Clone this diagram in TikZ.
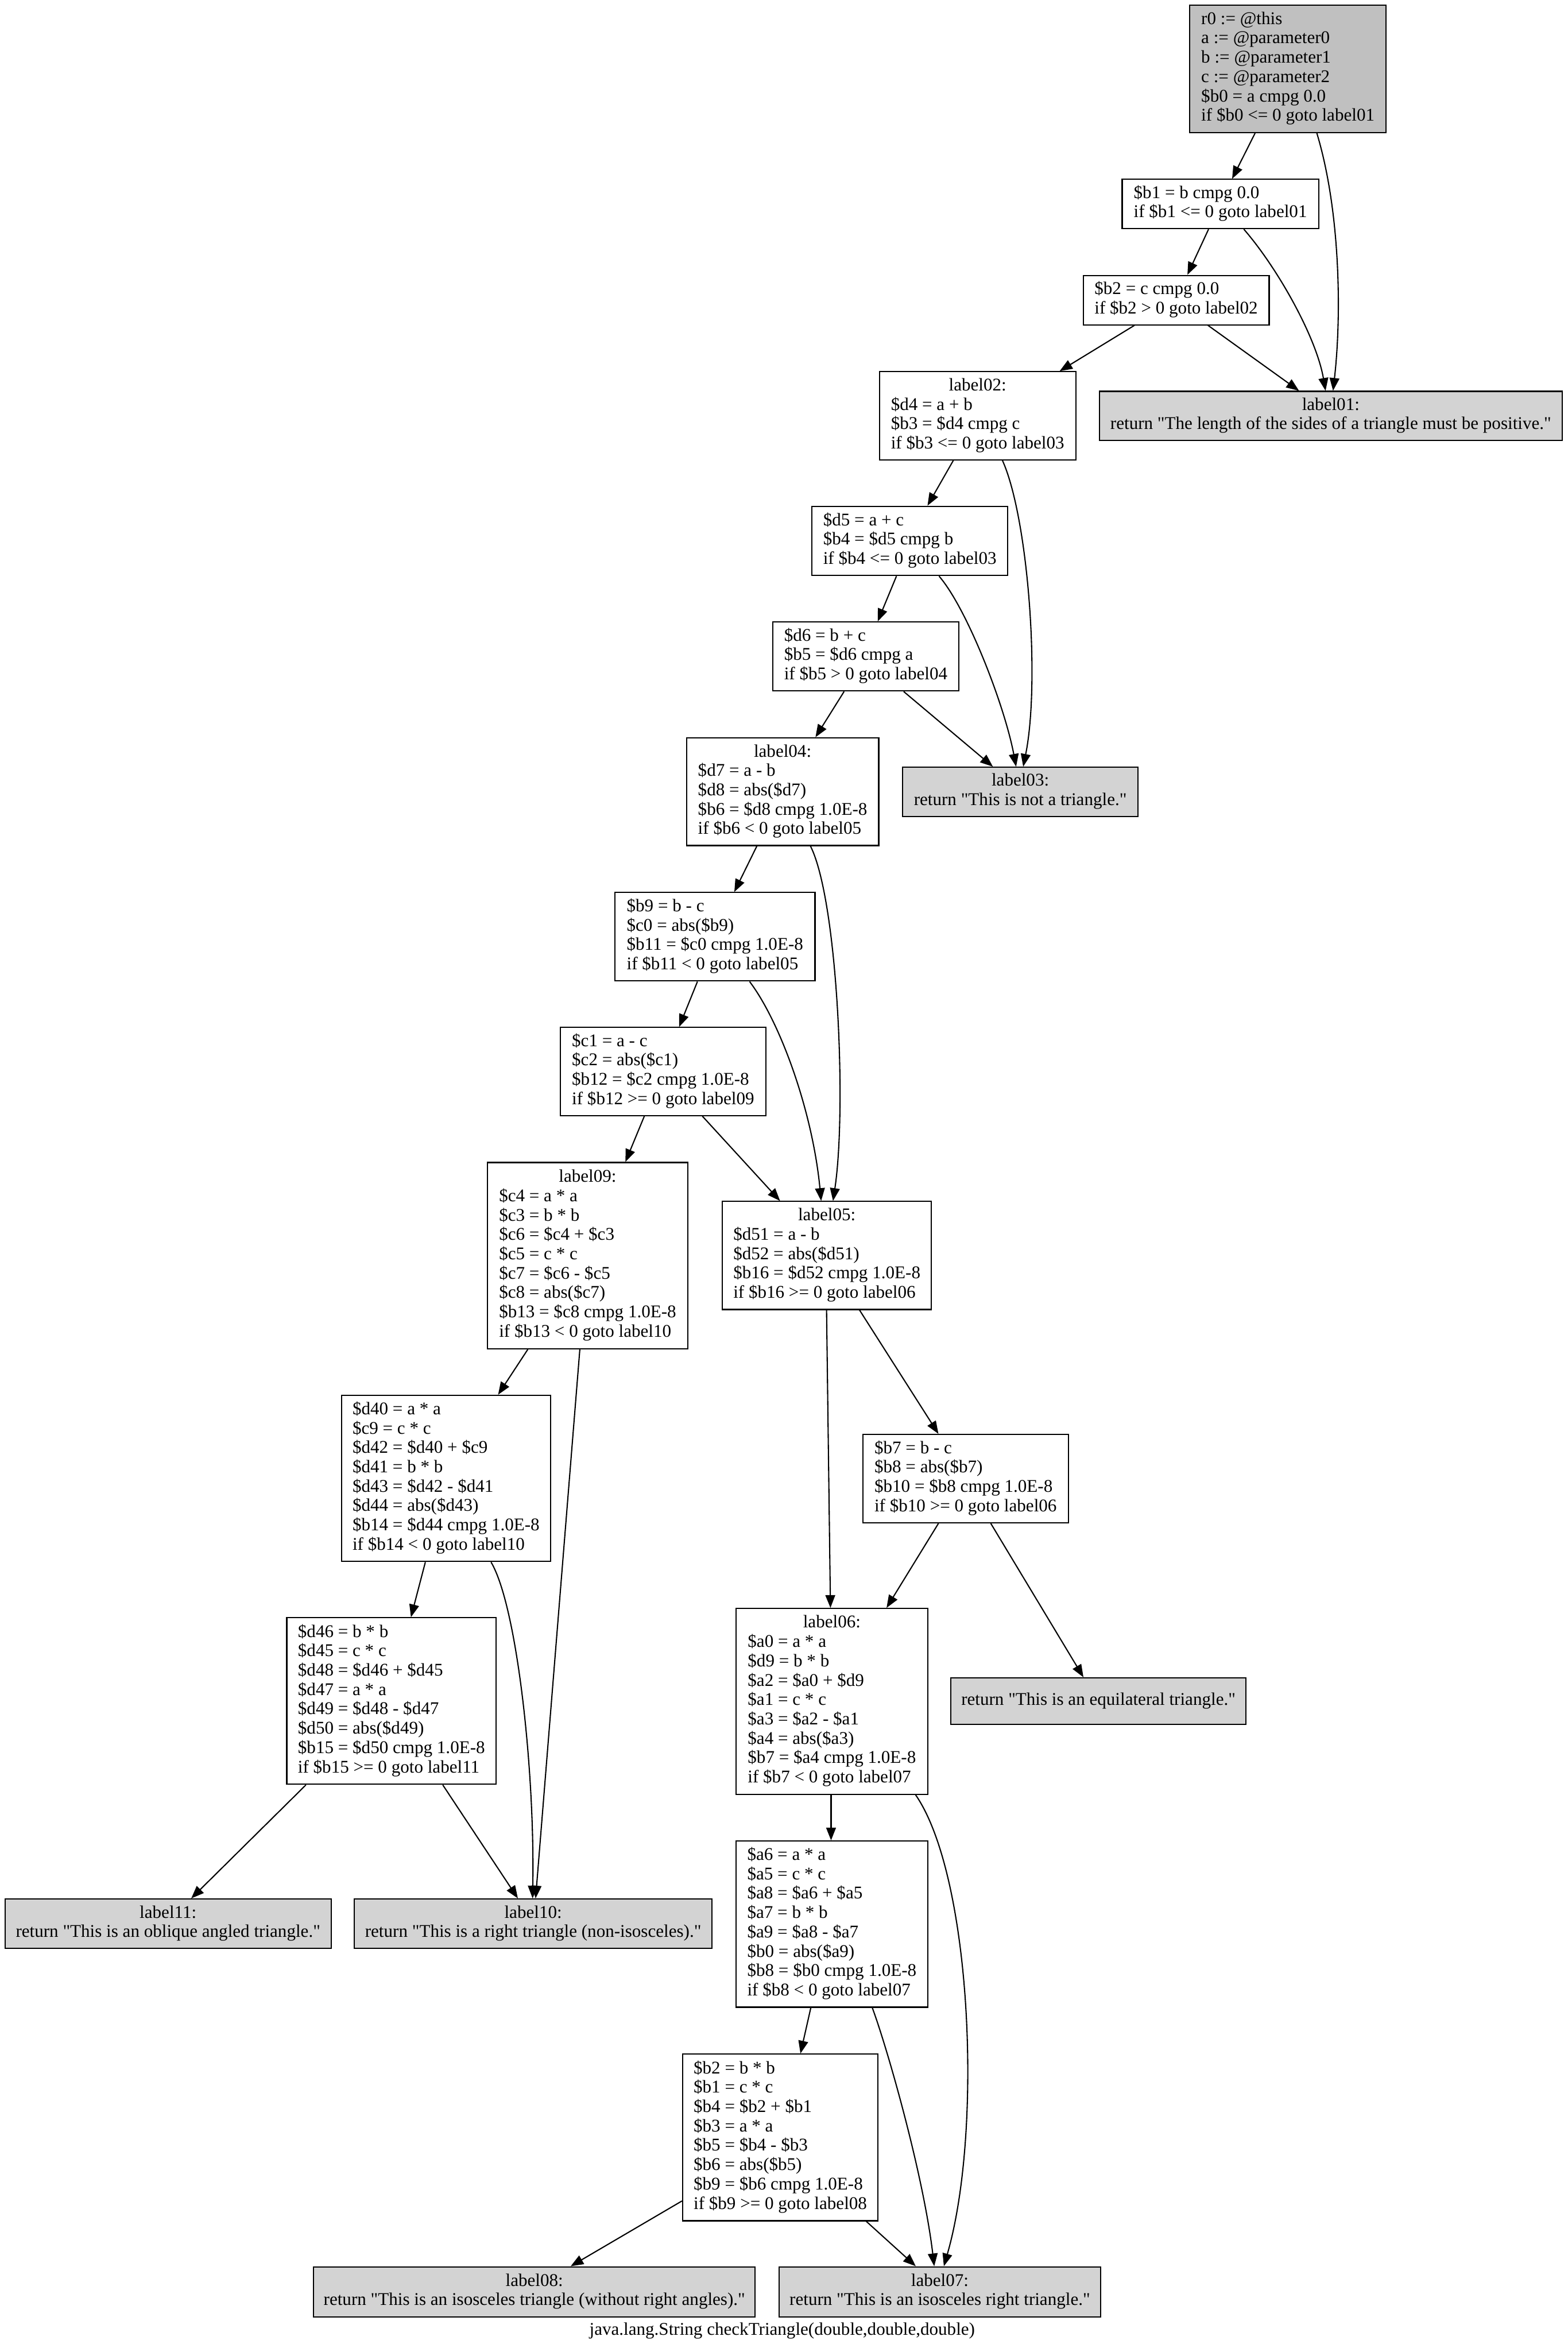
\documentclass[tikz,border=0pt]{standalone}
\usepackage{fontspec}
\newfontfamily\codeserif{Liberation Serif}
\usetikzlibrary{arrows.meta}
\definecolor{topgray}{HTML}{C0C0C0}
\definecolor{boxgray}{HTML}{D3D3D3}
\newcommand{\codefont}{\codeserif\fontsize{11.9pt}{12.9pt}\selectfont}
\newcommand{\codelines}[1]{\begin{tabular}{@{}l@{}}#1\end{tabular}}
\newcommand{\ctrlines}[1]{\begin{tabular}{@{}c@{}}#1\end{tabular}}
\newcommand{\hdline}[1]{\multicolumn{1}{@{}c@{}}{#1}}
\tikzset{
  cbox/.style={draw, line width=0.8pt, inner sep=0pt, fill=white, font=\codefont, rectangle},
  gbox/.style={cbox, fill=boxgray},
  flow/.style={line width=0.8pt, -{Triangle[length=8.5pt,width=6.5pt]}},
}
\begin{document}
\begin{tikzpicture}[x=1pt,y=-1pt]
\useasboundingbox (0,0) rectangle (1045.1,1568);

% nodes
\node[cbox, fill=topgray, minimum width=130.8pt, minimum height=85.1pt] (n0) at (858.7,45.85)
 {\codelines{r0 := @this\\ a := @parameter0\\ b := @parameter1\\ c := @parameter2\\ \$b0 = a cmpg 0.0\\ if \$b0 <= 0 goto label01}};
\node[cbox, minimum width=131pt, minimum height=32.8pt] (n1) at (813.7,136.0)
 {\codelines{\$b1 = b cmpg 0.0\\ if \$b1 <= 0 goto label01}};
\node[cbox, minimum width=124pt, minimum height=32.9pt] (n2) at (784.2,200.05)
 {\codelines{\$b2 = c cmpg 0.0\\ if \$b2 > 0 goto label02}};
\node[gbox, minimum width=308.6pt, minimum height=32.7pt] (l01) at (887.3,277.25)
 {\ctrlines{label01:\\ return "The length of the sides of a triangle must be positive."}};
\node[cbox, minimum width=131pt, minimum height=58.8pt] (l02) at (651.8,277.2)
 {\codelines{\hdline{label02:}\\ \$d4 = a + b\\ \$b3 = \$d4 cmpg c\\ if \$b3 <= 0 goto label03}};
\node[cbox, minimum width=130.5pt, minimum height=46.2pt] (n5) at (606.65,360.6)
 {\codelines{\$d5 = a + c\\ \$b4 = \$d5 cmpg b\\ if \$b4 <= 0 goto label03}};
\node[cbox, minimum width=124.1pt, minimum height=45.9pt] (n6) at (577.25,437.65)
 {\codelines{\$d6 = b + c\\ \$b5 = \$d6 cmpg a\\ if \$b5 > 0 goto label04}};
\node[gbox, minimum width=156.8pt, minimum height=32.8pt] (l03) at (680.3,527.9)
 {\ctrlines{label03:\\ return "This is not a triangle."}};
\node[cbox, minimum width=128.2pt, minimum height=71.8pt] (l04) at (521.8,527.8)
 {\codelines{\hdline{label04:}\\ \$d7 = a - b\\ \$d8 = abs(\$d7)\\ \$b6 = \$d8 cmpg 1.0E-8\\ if \$b6 < 0 goto label05}};
\node[cbox, minimum width=133.4pt, minimum height=59pt] (n9) at (476.7,624.5)
 {\codelines{\$b9 = b - c\\ \$c0 = abs(\$b9)\\ \$b11 = \$c0 cmpg 1.0E-8\\ if \$b11 < 0 goto label05}};
\node[cbox, minimum width=136.8pt, minimum height=58.7pt] (n10) at (442.1,714.35)
 {\codelines{\$c1 = a - c\\ \$c2 = abs(\$c1)\\ \$b12 = \$c2 cmpg 1.0E-8\\ if \$b12 >= 0 goto label09}};
\node[cbox, minimum width=133.6pt, minimum height=124.2pt] (l09) at (391.8,837.1)
 {\codelines{\hdline{label09:}\\ \$c4 = a * a\\ \$c3 = b * b\\ \$c6 = \$c4 + \$c3\\ \$c5 = c * c\\ \$c7 = \$c6 - \$c5\\ \$c8 = abs(\$c7)\\ \$b13 = \$c8 cmpg 1.0E-8\\ if \$b13 < 0 goto label10}};
\node[cbox, minimum width=139.4pt, minimum height=72pt] (l05) at (551.3,837.0)
 {\codelines{\hdline{label05:}\\ \$d51 = a - b\\ \$d52 = abs(\$d51)\\ \$b16 = \$d52 cmpg 1.0E-8\\ if \$b16 >= 0 goto label06}};
\node[cbox, minimum width=139.6pt, minimum height=110.8pt] (n13) at (297.4,985.6)
 {\codelines{\$d40 = a * a\\ \$c9 = c * c\\ \$d42 = \$d40 + \$c9\\ \$d41 = b * b\\ \$d43 = \$d42 - \$d41\\ \$d44 = abs(\$d43)\\ \$b14 = \$d44 cmpg 1.0E-8\\ if \$b14 < 0 goto label10}};
\node[cbox, minimum width=137pt, minimum height=58.9pt] (n14) at (643.8,985.75)
 {\codelines{\$b7 = b - c\\ \$b8 = abs(\$b7)\\ \$b10 = \$b8 cmpg 1.0E-8\\ if \$b10 >= 0 goto label06}};
\node[cbox, minimum width=139.6pt, minimum height=111pt] (n15) at (261.0,1134.0)
 {\codelines{\$d46 = b * b\\ \$d45 = c * c\\ \$d48 = \$d46 + \$d45\\ \$d47 = a * a\\ \$d49 = \$d48 - \$d47\\ \$d50 = abs(\$d49)\\ \$b15 = \$d50 cmpg 1.0E-8\\ if \$b15 >= 0 goto label11}};
\node[cbox, minimum width=127.7pt, minimum height=123.9pt] (l06) at (554.65,1134.25)
 {\codelines{\hdline{label06:}\\ \$a0 = a * a\\ \$d9 = b * b\\ \$a2 = \$a0 + \$d9\\ \$a1 = c * c\\ \$a3 = \$a2 - \$a1\\ \$a4 = abs(\$a3)\\ \$b7 = \$a4 cmpg 1.0E-8\\ if \$b7 < 0 goto label07}};
\node[gbox, minimum width=196.7pt, minimum height=31.1pt] (eq) at (732.35,1134.15)
 {\ctrlines{return "This is an equilateral triangle."}};
\node[gbox, minimum width=217.5pt, minimum height=33pt] (l11) at (112.05,1282.5)
 {\ctrlines{label11:\\ return "This is an oblique angled triangle."}};
\node[gbox, minimum width=238.4pt, minimum height=33pt] (l10) at (355.5,1282.5)
 {\ctrlines{label10:\\ return "This is a right triangle (non-isosceles)."}};
\node[cbox, minimum width=127.7pt, minimum height=110.8pt] (n20) at (554.65,1282.7)
 {\codelines{\$a6 = a * a\\ \$a5 = c * c\\ \$a8 = \$a6 + \$a5\\ \$a7 = b * b\\ \$a9 = \$a8 - \$a7\\ \$b0 = abs(\$a9)\\ \$b8 = \$b0 cmpg 1.0E-8\\ if \$b8 < 0 goto label07}};
\node[cbox, minimum width=130.3pt, minimum height=111.1pt] (n21) at (520.25,1424.95)
 {\codelines{\$b2 = b * b\\ \$b1 = c * c\\ \$b4 = \$b2 + \$b1\\ \$b3 = a * a\\ \$b5 = \$b4 - \$b3\\ \$b6 = abs(\$b5)\\ \$b9 = \$b6 cmpg 1.0E-8\\ if \$b9 >= 0 goto label08}};
\node[gbox, minimum width=294.4pt, minimum height=33.4pt] (l08) at (356.3,1527.9)
 {\ctrlines{label08:\\ return "This is an isosceles triangle (without right angles)."}};
\node[gbox, minimum width=214.7pt, minimum height=33.4pt] (l07) at (626.65,1527.9)
 {\ctrlines{label07:\\ return "This is an isosceles right triangle."}};
\node[font=\codefont, inner sep=0pt] (caption) at (521.5,1554)
 {java.lang.String checkTriangle(double,double,double)};

% edges
\draw[flow] ([xshift=43.9pt]n0.south west) -- ([xshift=73.7pt]n1.north west);
\draw[flow] ([xshift=85.1pt]n0.south west) .. controls +(15.6,51.6) and +(5.8,-50.9) .. ([xshift=156.2pt]l01.north west);
\draw[flow] ([xshift=58.0pt]n1.south west) -- ([xshift=69.9pt]n2.north west);
\draw[flow] ([xshift=81.5pt]n1.south west) .. controls +(22.3,25.6) and +(-6.2,-35.9) .. ([xshift=151.2pt]l01.north west);
\draw[flow] ([xshift=34.6pt]n2.south west) -- ([xshift=120.6pt]l02.north west);
\draw[flow] ([xshift=83.6pt]n2.south west) -- ([xshift=133.5pt]l01.north west);
\draw[flow] ([xshift=49.7pt]l02.south west) -- ([xshift=77.4pt]n5.north west);
\draw[flow] ([xshift=82.5pt]l02.south west) .. controls +(17.2,38.4) and +(11.4,-56.5) .. ([xshift=80.7pt]l03.north west);
\draw[flow] ([xshift=56.7pt]n5.south west) -- ([xshift=70.4pt]n6.north west);
\draw[flow] ([xshift=85.1pt]n5.south west) .. controls +(18.5,21.3) and +(-7.9,-41.5) .. ([xshift=76.0pt]l03.north west);
\draw[flow] ([xshift=48.0pt]n6.south west) -- ([xshift=86.4pt]l04.north west);
\draw[flow] ([xshift=87.7pt]n6.south west) -- ([xshift=60.5pt]l03.north west);
\draw[flow] ([xshift=47.3pt]l04.south west) -- ([xshift=80.0pt]n9.north west);
\draw[flow] ([xshift=83.1pt]l04.south west) .. controls +(18.2,36.3) and +(9.2,-61) .. ([xshift=74.2pt]l05.north west);
\draw[flow] ([xshift=55.4pt]n9.south west) -- ([xshift=79.5pt]n10.north west);
\draw[flow] ([xshift=90.2pt]n9.south west) .. controls +(19.8,26) and +(-5.9,-61) .. ([xshift=66.3pt]l05.north west);
\draw[flow] ([xshift=56.3pt]n10.south west) -- ([xshift=92.4pt]l09.north west);
\draw[flow] ([xshift=95.0pt]n10.south west) -- ([xshift=38.9pt]l05.north west);
\draw[flow] ([xshift=27.3pt]l09.south west) -- ([xshift=104.9pt]n13.north west);
\draw[flow] ([xshift=62.0pt]l09.south west) -- ([xshift=121.2pt]l10.north west);
\draw[flow] ([xshift=69.9pt]l05.south west) -- ([xshift=63.3pt]l06.north west);
\draw[flow] ([xshift=91.9pt]l05.south west) -- ([xshift=50.8pt]n14.north west);
\draw[flow] ([xshift=56.4pt]n13.south west) -- ([xshift=83.2pt]n15.north west);
\draw[flow] ([xshift=100.2pt]n13.south west) .. controls +(17.2,29) and +(1.5,-86) .. ([xshift=119.2pt]l10.north west);
\draw[flow] ([xshift=50.8pt]n14.south west) -- ([xshift=100.7pt]l06.north west);
\draw[flow] ([xshift=85.7pt]n14.south west) -- ([xshift=88.8pt]eq.north west);
\draw[flow] ([xshift=13.2pt]n15.south west) -- ([xshift=124.6pt]l11.north west);
\draw[flow] ([xshift=104.4pt]n15.south west) -- ([xshift=109.4pt]l10.north west);
\draw[flow] ([xshift=63.7pt]l06.south west) -- ([xshift=63.7pt]n20.north west);
\draw[flow] ([xshift=120.1pt]l06.south west) .. controls +(37.1,53.8) and +(26.3,-91.2) .. ([xshift=110.4pt]l07.north west);
\draw[flow] ([xshift=50.2pt]n20.south west) -- ([xshift=79.0pt]n21.north west);
\draw[flow] ([xshift=91.2pt]n20.south west) .. controls +(10,26.9) and +(-7.3,-61.2) .. ([xshift=104.0pt]l07.north west);
\draw[flow] ([yshift=13.6pt]n21.south west) -- ([xshift=171.8pt]l08.north west);
\draw[flow] ([xshift=122.9pt]n21.south west) -- ([xshift=91.7pt]l07.north west);
\end{tikzpicture}
\end{document}
